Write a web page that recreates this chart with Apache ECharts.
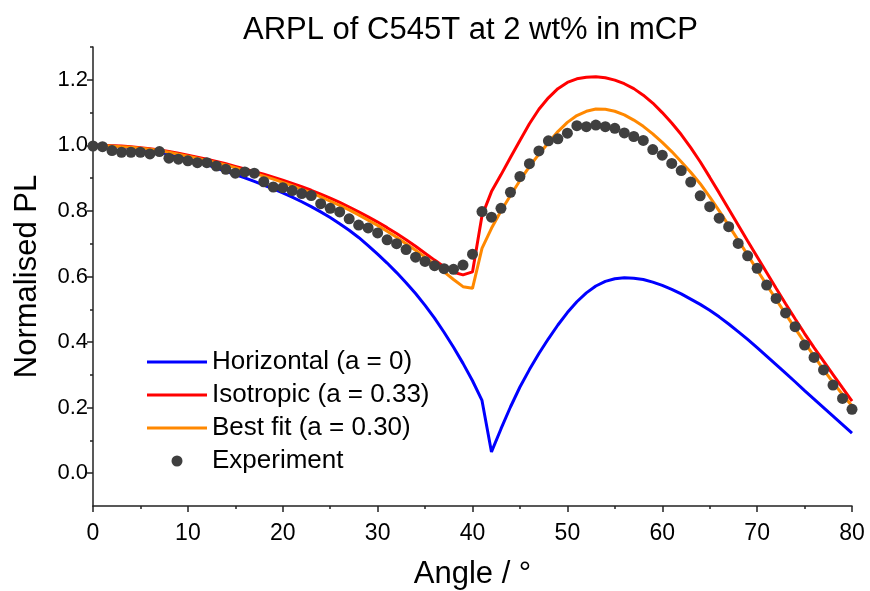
<!DOCTYPE html>
<html><head><meta charset="utf-8">
<script src="https://cdn.jsdelivr.net/npm/echarts@6/dist/echarts.min.js"></script>
<style>html,body{margin:0;padding:0;background:#fff}#c{width:870px;height:591px}</style>
</head><body><div id="c"></div>
<script>
const angles = [0,1,2,3,4,5,6,7,8,9,10,11,12,13,14,15,16,17,18,19,20,21,22,23,24,25,26,27,28,29,30,31,32,33,34,35,36,37,38,39,40,41,42,43,44,45,46,47,48,49,50,51,52,53,54,55,56,57,58,59,60,61,62,63,64,65,66,67,68,69,70,71,72,73,74,75,76,77,78,79,80];

const horizontal = [1.000,1.000,0.998,0.996,0.993,0.989,0.985,0.979,0.973,0.966,0.958,0.950,0.941,0.931,0.921,0.911,0.901,0.890,0.879,0.867,0.855,0.842,0.828,0.813,0.797,0.780,0.761,0.741,0.719,0.694,0.668,0.641,0.612,0.581,0.548,0.512,0.473,0.430,0.384,0.335,0.282,0.222,0.065,0.135,0.202,0.263,0.316,0.365,0.410,0.452,0.490,0.523,0.550,0.571,0.585,0.593,0.596,0.595,0.591,0.583,0.573,0.561,0.547,0.531,0.515,0.497,0.477,0.455,0.432,0.408,0.383,0.357,0.331,0.305,0.279,0.252,0.226,0.200,0.174,0.148,0.122];

const isotropic = [1.000,1.000,0.999,0.998,0.996,0.993,0.990,0.986,0.981,0.976,0.970,0.964,0.958,0.951,0.944,0.936,0.928,0.920,0.912,0.903,0.894,0.884,0.874,0.863,0.851,0.839,0.826,0.812,0.797,0.782,0.766,0.749,0.731,0.712,0.692,0.671,0.650,0.630,0.613,0.605,0.614,0.785,0.859,0.910,0.963,1.015,1.066,1.110,1.145,1.173,1.192,1.203,1.208,1.209,1.206,1.199,1.188,1.173,1.153,1.129,1.100,1.068,1.033,0.993,0.950,0.903,0.855,0.806,0.757,0.708,0.660,0.612,0.564,0.517,0.471,0.426,0.383,0.342,0.301,0.260,0.220];

const bestFit = [1.000,0.999,0.998,0.996,0.994,0.991,0.988,0.984,0.979,0.973,0.967,0.961,0.954,0.947,0.940,0.932,0.923,0.915,0.906,0.897,0.887,0.877,0.866,0.855,0.843,0.830,0.817,0.803,0.788,0.772,0.756,0.738,0.720,0.700,0.680,0.659,0.637,0.614,0.591,0.569,0.564,0.686,0.747,0.800,0.847,0.893,0.935,0.973,1.008,1.042,1.070,1.091,1.104,1.111,1.110,1.104,1.093,1.077,1.058,1.035,1.009,0.981,0.950,0.918,0.883,0.843,0.800,0.756,0.711,0.666,0.620,0.575,0.530,0.486,0.442,0.399,0.357,0.316,0.277,0.240,0.205];

const experiment = [0.998,0.996,0.984,0.979,0.979,0.979,0.974,0.981,0.961,0.958,0.953,0.947,0.947,0.937,0.927,0.915,0.919,0.915,0.889,0.873,0.871,0.862,0.853,0.847,0.822,0.808,0.797,0.776,0.757,0.748,0.733,0.712,0.700,0.682,0.659,0.646,0.633,0.624,0.622,0.635,0.668,0.798,0.781,0.808,0.857,0.905,0.944,0.983,1.014,1.020,1.037,1.060,1.057,1.062,1.057,1.052,1.038,1.027,1.015,0.987,0.970,0.945,0.923,0.888,0.846,0.813,0.778,0.752,0.701,0.663,0.625,0.574,0.533,0.489,0.447,0.391,0.353,0.315,0.269,0.228,0.195];

const seriesNames = ['Horizontal (a = 0)','Isotropic (a = 0.33)','Best fit (a = 0.30)','Experiment'];
const yTickLabels = [0,0.2,0.4,0.6,0.8,1.0,1.2];
const yMinorTicks = [0.1,0.3,0.5,0.7,0.9,1.1,1.3];

const FONT = '"Liberation Sans", Arial, sans-serif';
const pairs = ys => angles.map((a,i)=>[a, ys[i]]);
const lineIcon = 'path://M0,0L20,0L20,1L0,1Z';

const chart = echarts.init(document.getElementById('c'), null, {renderer:'canvas'});
const axisColor = '#222';
chart.setOption({
  animation:false,
  backgroundColor:'#fff',
  title:{text:'ARPL of C545T at 2 wt% in mCP', left:238, top:10,
    textStyle:{fontFamily:FONT, fontSize:31, fontWeight:'normal', color:'#000'}},
  grid:{left:93, right:18, top:47, bottom:85, containLabel:false, outerBoundsMode:'none'},
  legend:{orient:'vertical', left:142, top:344, itemWidth:60, itemHeight:11, itemGap:7,
    symbolKeepAspect:true,
    textStyle:{fontFamily:FONT, fontSize:26, color:'#000', lineHeight:26},
    data:[
      {name:seriesNames[0], icon:lineIcon},
      {name:seriesNames[1], icon:lineIcon},
      {name:seriesNames[2], icon:lineIcon},
      {name:seriesNames[3], icon:'circle'}
    ]},
  xAxis:{type:'value', min:0, max:80, interval:10,
    name:'Angle / °', nameLocation:'middle', nameGap:53,
    nameTextStyle:{fontFamily:FONT, fontSize:31, color:'#000'},
    axisLine:{onZero:false, lineStyle:{color:axisColor, width:1.5}},
    axisTick:{show:true, length:6, lineStyle:{color:axisColor, width:1.5}},
    minorTick:{show:true, splitNumber:2, length:3, lineStyle:{color:axisColor, width:1.5}},
    axisLabel:{fontFamily:FONT, fontSize:23, color:'#000', margin:16},
    splitLine:{show:false}},
  yAxis:[{type:'value', min:-0.1, max:1.3,
    name:'Normalised PL', nameLocation:'middle', nameGap:50, nameRotate:90,
    nameTextStyle:{fontFamily:FONT, fontSize:31, color:'#000'},
    axisLine:{show:true, onZero:false, lineStyle:{color:axisColor, width:1.5}},
    axisTick:{show:true, length:6, customValues:yTickLabels, lineStyle:{color:axisColor, width:1.5}},
    axisLabel:{fontFamily:FONT, fontSize:22, color:'#000', margin:5, customValues:yTickLabels,
      formatter:v=>Number(v).toFixed(1)},
    splitLine:{show:false}},
   {type:'value', min:-0.1, max:1.3, position:'left',
    axisLine:{show:false, onZero:false},
    axisTick:{show:true, length:3, customValues:yMinorTicks, lineStyle:{color:axisColor, width:1.5}},
    axisLabel:{show:false}, splitLine:{show:false}}],
  series:[
    {name:seriesNames[0], type:'line', data:pairs(horizontal), symbol:'none', smooth:false,
      lineStyle:{color:'#0000ff', width:3}, itemStyle:{color:'#0000ff'}, z:2},
    {name:seriesNames[1], type:'line', data:pairs(isotropic), symbol:'none', smooth:false,
      lineStyle:{color:'#ff0000', width:3}, itemStyle:{color:'#ff0000'}, z:3},
    {name:seriesNames[2], type:'line', data:pairs(bestFit), symbol:'none', smooth:false,
      lineStyle:{color:'#ff8800', width:3}, itemStyle:{color:'#ff8800'}, z:4},
    {name:seriesNames[3], type:'scatter', data:pairs(experiment), symbol:'circle', symbolSize:11,
      itemStyle:{color:'#3f3f3f', opacity:1}, z:5}
  ]
});
</script></body></html>
